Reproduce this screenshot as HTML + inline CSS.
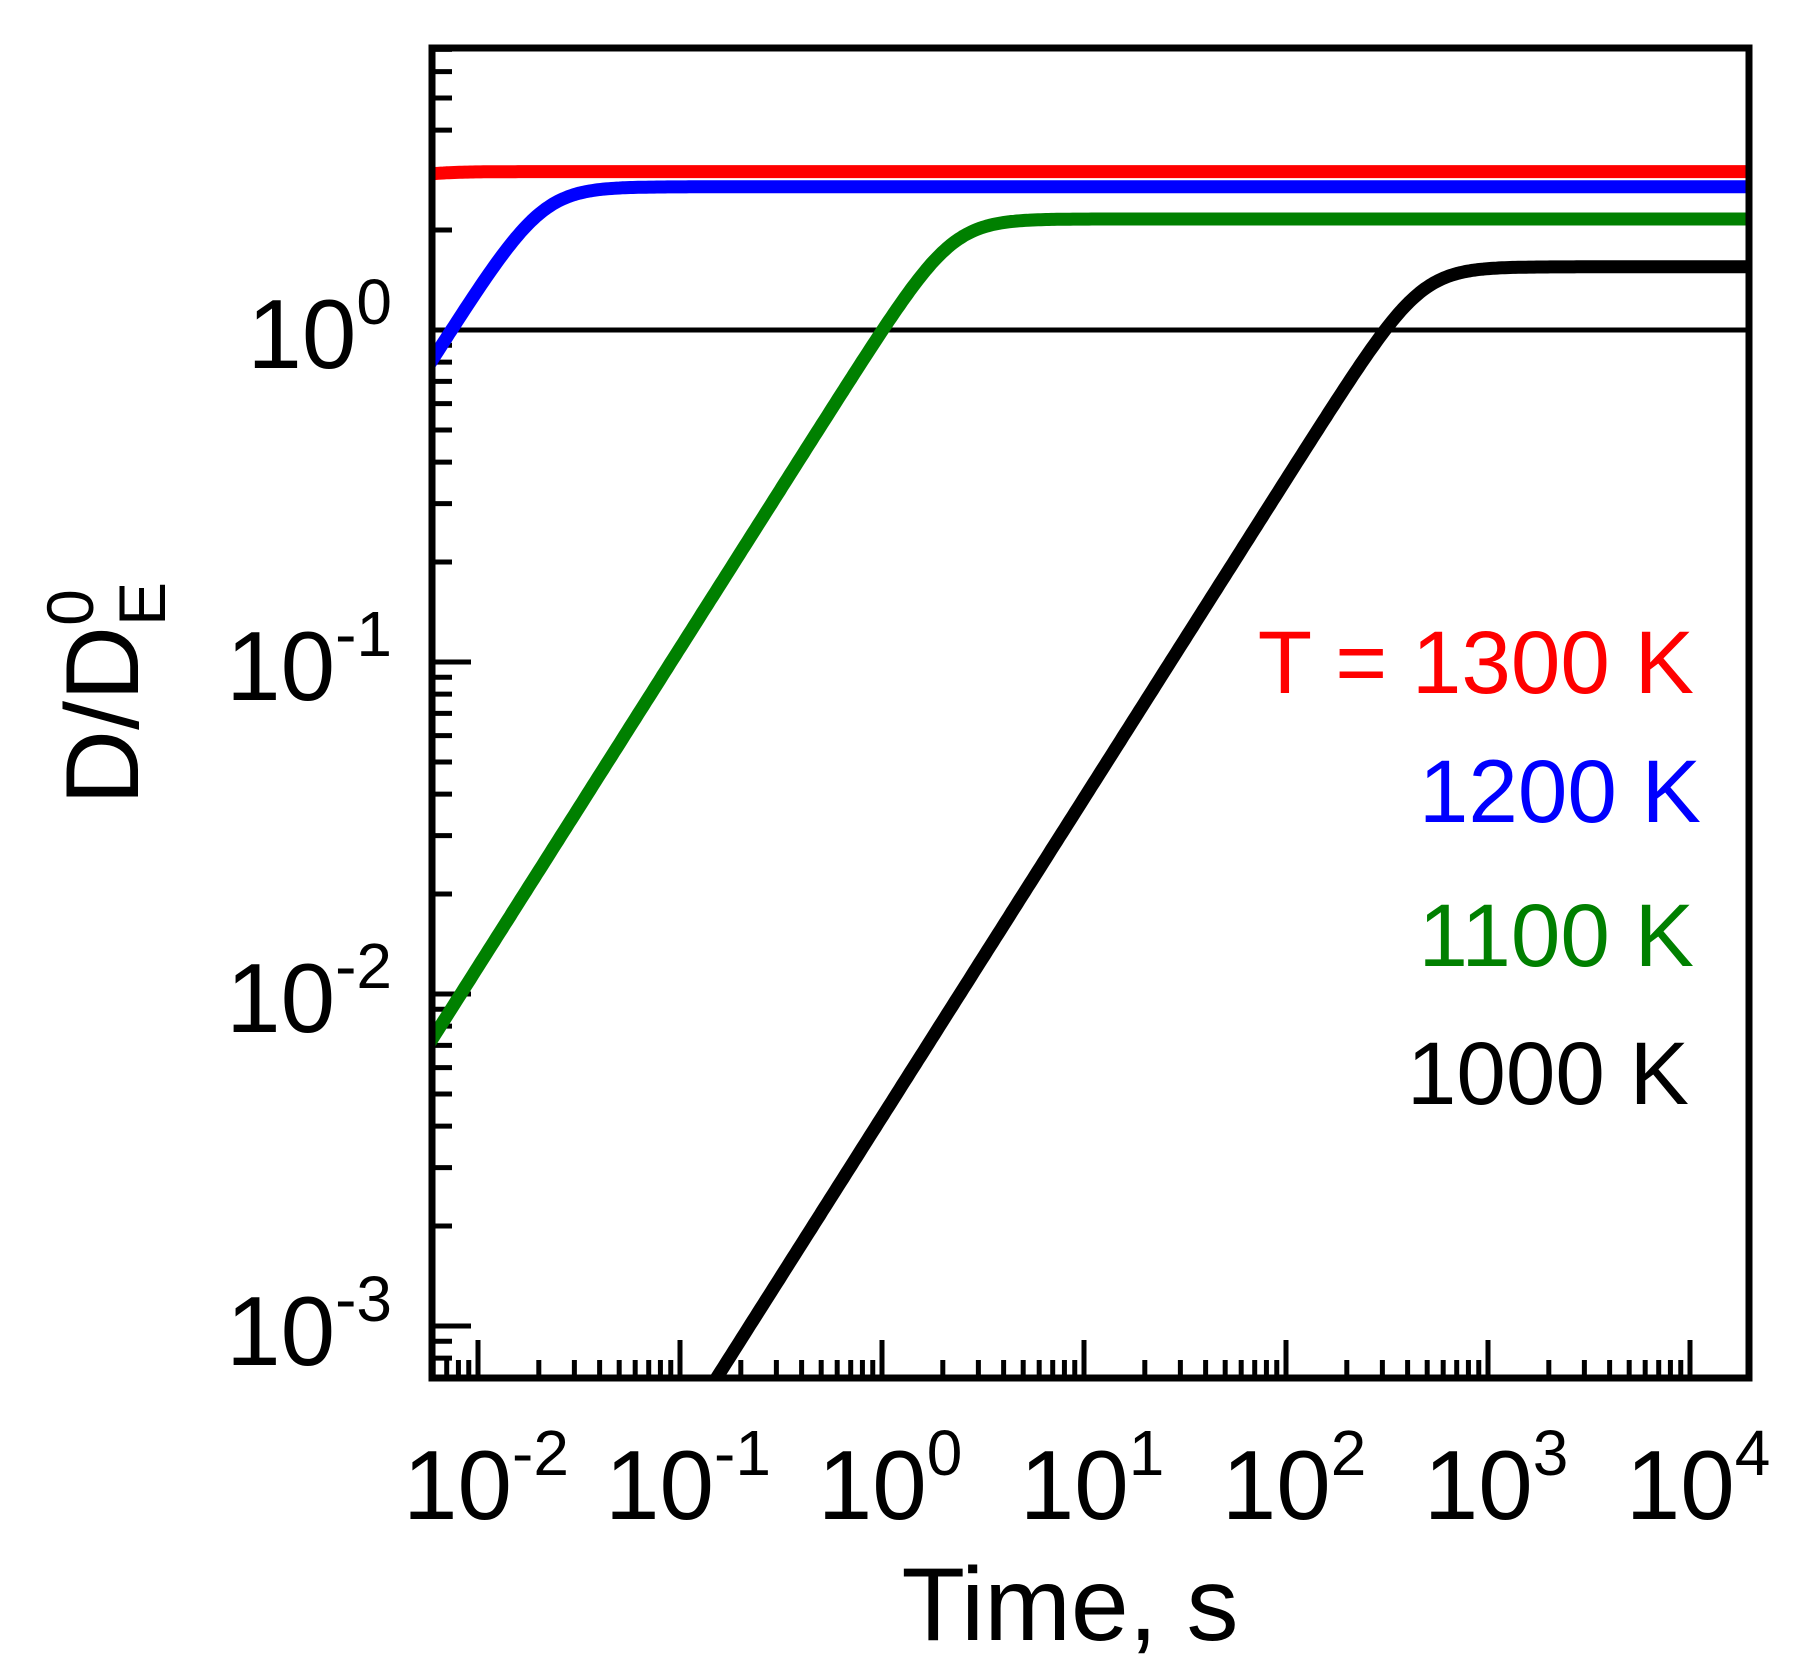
<!DOCTYPE html>
<html><head><meta charset="utf-8"><style>
html,body{margin:0;padding:0;background:#fff;overflow:hidden;width:1805px;height:1671px;}
svg{display:block;font-family:"Liberation Sans",Arial,sans-serif;}
</style></head><body>
<svg id="s" width="1805" height="1671" viewBox="0 0 1805 1671" xmlns="http://www.w3.org/2000/svg">
<defs><clipPath id="c"><rect x="432" y="48" width="1317" height="1330"/></clipPath></defs>
<g id="ticks" stroke="#000" stroke-width="5"></g>
<line x1="432" y1="330" x2="1749" y2="330" stroke="#000" stroke-width="5"/>
<g id="curves" clip-path="url(#c)" fill="none" stroke-width="13" stroke-linejoin="round"></g>
<rect x="432" y="48" width="1317" height="1330" fill="none" stroke="#000" stroke-width="7"/>
<g font-size="98" text-anchor="end">
<text x="392" y="368">10<tspan font-size="64" dy="-44">0</tspan></text>
<text x="392" y="700">10<tspan font-size="64" dy="-44">-1</tspan></text>
<text x="392" y="1032">10<tspan font-size="64" dy="-44">-2</tspan></text>
<text x="392" y="1365">10<tspan font-size="64" dy="-44">-3</tspan></text>
</g>
<g id="xl" font-size="98" text-anchor="middle"></g>
<text x="1070" y="1640" font-size="104" text-anchor="middle">Time, s</text>
<text transform="translate(138,805) rotate(-90)" font-size="104">D/D<tspan font-size="66" dy="27">E</tspan><tspan font-size="66" dx="-44" dy="-72">0</tspan></text>
<g font-size="89" text-anchor="end">
<text x="1694" y="693" fill="#ff0000">T = 1300 K</text>
<text x="1701" y="822" fill="#0000ff">1200 K</text>
<text x="1694" y="966" fill="#008000">1100 K</text>
<text x="1689" y="1104" fill="#000">1000 K</text>
</g>
</svg>
<script>
function X(l){return 478+(l+2)*202;}
function Y(l){return 330-l*332;}
var tk=document.getElementById('ticks'),h='';
for(var k=-4;k<=0;k++)for(var m=1;m<=9;m++){var l=k+Math.log10(m);if(l<-3.154||l>0.85)continue;var y=Y(l);h+='<line x1="432" x2="'+(m==1?471:452)+'" y1="'+y+'" y2="'+y+'"/>';}
for(var k=-3;k<=4;k++)for(var m=1;m<=9;m++){var l=k+Math.log10(m);if(l<-2.235||l>4.29)continue;var x=X(l);h+='<line y1="1378" y2="'+(m==1?1340:1360)+'" x1="'+x+'" x2="'+x+'"/>';}
tk.innerHTML=h;
var xl='';var sup=['-2','-1','0','1','2','3','4'];
for(var i=0;i<7;i++){xl+='<text x="'+(X(i-2)+8)+'" y="1519">10<tspan font-size="64" dy="-44">'+sup[i]+'</tspan></text>';}
document.getElementById('xl').innerHTML=xl;
var p=0.96,n=4;
var cs=[['#000',1.55,465],['#008000',2.16,2.22],['#0000ff',2.7,0.0207],['#ff0000',3.0,0.0029]];
var g='';
cs.forEach(function(c){var d='';for(var i=0;i<=500;i++){var l=-2.25+i*(6.6/500);var t=Math.pow(10,l);var y=Math.pow(t/c[2],p);var D=c[1]*y/Math.pow(1+Math.pow(y,n),1/n);d+=(i?'L':'M')+X(l).toFixed(1)+','+Y(Math.log10(D)).toFixed(1);}g+='<path d="'+d+'" stroke="'+c[0]+'"/>';});
document.getElementById('curves').innerHTML=g;
</script>
</body></html>
